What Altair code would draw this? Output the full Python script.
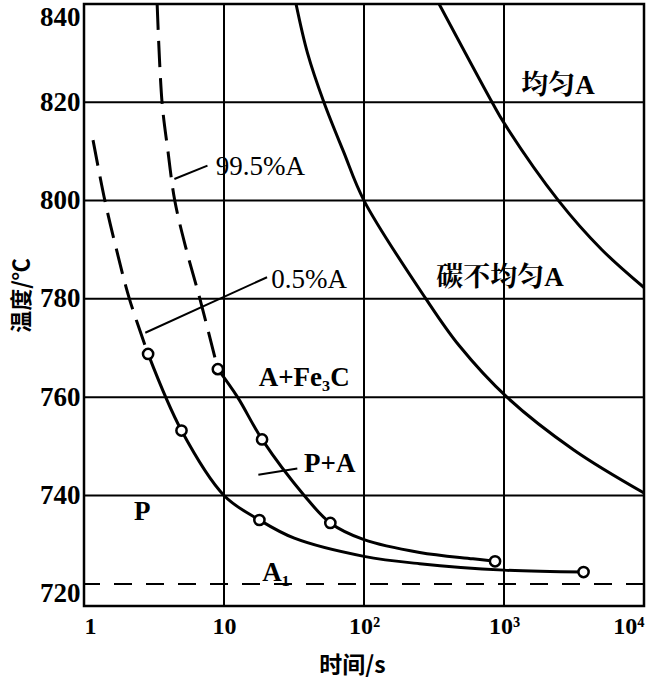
import altair as alt
import pandas as pd

# ---- data (time in s, temperature in °C) ----
a_dash_t = [1.16, 1.41, 1.70, 2.11, 2.87]
a_dash_T = [812.3, 800.0, 790.2, 780.0, 768.8]
a_solid_t = [2.87, 4.97, 10.0, 17.9, 31.8, 100, 250, 1000, 3700]
a_solid_T = [768.8, 753.2, 740.0, 735.0, 731.3, 727.6, 726.1, 724.8, 724.4]

b_dash_t = [3.33, 3.61, 3.98, 4.45, 5.36, 6.73, 9.04]
b_dash_T = [840.0, 820.0, 810.0, 800.0, 790.2, 780.0, 765.7]
b_solid_t = [9.04, 12.5, 18.7, 37.4, 57.5, 100, 250, 600, 863]
b_solid_T = [765.7, 760.0, 751.4, 740.0, 734.4, 731.0, 728.4, 727.1, 726.6]

c_t = [32.7, 39.5, 51.7, 71.3, 100, 277, 478, 1050, 3170, 10000]
c_T = [840.0, 830.0, 820.0, 810.0, 800.0, 780.0, 770.5, 760.0, 749.2, 740.5]

d_t = [344, 822, 1000, 2450, 5000, 10000]
d_T = [840.0, 820.0, 815.8, 800.0, 790.0, 782.3]

circ_t = [2.87, 4.97, 17.9, 3700, 9.04, 18.7, 57.5, 863]
circ_T = [768.8, 753.2, 735.0, 724.4, 765.7, 751.4, 734.4, 726.6]

a1_T = [722.0]
grid_t = [10, 100, 1000]
grid_T = [740, 760, 780, 800, 820]
x_ticks = [1, 10, 100, 1000, 10000]
y_ticks = [720, 740, 760, 780, 800, 820, 840]

bold_labels = ["均匀A", "碳不均匀A", "A+Fe₃C", "P+A", "P", "A₁"]
bold_t = [2430, 937, 37.4, 56.9, 2.61, 23.5]
bold_T = [823.3, 784.2, 763.9, 746.4, 736.6, 724.2]

reg_labels = ["99.5%A", "0.5%A"]
reg_t = [18.2, 40.6]
reg_T = [806.9, 783.8]

lead_t = [4.42, 2.74, 17.6]
lead_T = [804.4, 773.1, 744.2]
lead_t2 = [7.62, 20.3, 33.4]
lead_T2 = [807.1, 784.4, 745.5]

# ---- tables ----
def curve(name, ts, Ts):
    return pd.DataFrame({"t": ts, "T": Ts, "seg": name})

dashed = pd.concat([curve("A", a_dash_t, a_dash_T), curve("B", b_dash_t, b_dash_T)])
solid = pd.concat([curve("A", a_solid_t, a_solid_T), curve("B", b_solid_t, b_solid_T),
                   curve("C", c_t, c_T), curve("D", d_t, d_T)])
circles = pd.DataFrame({"t": circ_t, "T": circ_T})
gx = pd.DataFrame({"t": grid_t})
gy = pd.DataFrame({"T": grid_T})
a1 = pd.DataFrame({"T": a1_T})
bold_df = pd.DataFrame({"label": bold_labels, "t": bold_t, "T": bold_T})
reg_df = pd.DataFrame({"label": reg_labels, "t": reg_t, "T": reg_T})
lead_df = pd.DataFrame({"t": lead_t, "T": lead_T, "t2": lead_t2, "T2": lead_T2})

xs = alt.Scale(type="log", domain=[1, 10000], nice=False)
ys = alt.Scale(domain=[717.5, 840], nice=False, zero=False)

FONT = "Liberation Serif, Noto Serif CJK SC, Noto Sans CJK SC"

x_axis = alt.Axis(
    values=x_ticks,
    labelExpr="datum.value == 1 ? '1' : datum.value == 10 ? '10' : datum.value == 100 ? '10²' : datum.value == 1000 ? '10³' : '10⁴'",
    labelFont=FONT, labelFontSize=24, labelFontWeight="bold", labelColor="black",
    labelPadding=8, labelFlush=True, labelOverlap=False,
    ticks=False, domain=False, grid=False,
    title="时间/s", titleFont="Noto Sans CJK SC", titleFontSize=23, titleFontWeight="bold",
    titleColor="black", titleX=268, titleY=59, titleAlign="center", titleBaseline="middle",
)
y_axis = alt.Axis(
    values=y_ticks, format="d",
    labelFont=FONT, labelFontSize=27, labelFontWeight="bold", labelColor="black",
    labelPadding=4, labelOverlap=False, labelFlush=True,
    ticks=False, domain=False, grid=False,
    title="温度/℃", titleFont="Noto Sans CJK SC", titleFontSize=22, titleFontWeight="bold",
    titleColor="black", titleX=-63, titleY=291, titleAngle=270, titleAlign="center",
    titleBaseline="middle",
)

base_axes = alt.Chart(gx).mark_rule(color="black", strokeWidth=2).encode(
    x=alt.X("t:Q", scale=xs, axis=x_axis),
)
grid_h = alt.Chart(gy).mark_rule(color="black", strokeWidth=2).encode(
    y=alt.Y("T:Q", scale=ys, axis=y_axis),
)
a1_line = alt.Chart(a1).mark_rule(color="black", strokeWidth=2, strokeDash=[18, 14]).encode(
    y=alt.Y("T:Q", scale=ys),
)
dash_lines = alt.Chart(dashed).mark_line(color="black", strokeWidth=3, strokeDash=[26, 11],
                                         interpolate="catmull-rom", clip=True).encode(
    x=alt.X("t:Q", scale=xs), y=alt.Y("T:Q", scale=ys), detail="seg:N",
)
solid_lines = alt.Chart(solid).mark_line(color="black", strokeWidth=3,
                                         interpolate="catmull-rom", clip=True).encode(
    x=alt.X("t:Q", scale=xs), y=alt.Y("T:Q", scale=ys), detail="seg:N",
)
leaders = alt.Chart(lead_df).mark_rule(color="black", strokeWidth=2).encode(
    x=alt.X("t:Q", scale=xs), y=alt.Y("T:Q", scale=ys), x2="t2:Q", y2="T2:Q",
)
pts = alt.Chart(circles).mark_point(shape="circle", filled=True, fill="white", stroke="black",
                                     strokeWidth=2.5, size=105, opacity=1).encode(
    x=alt.X("t:Q", scale=xs), y=alt.Y("T:Q", scale=ys),
)
txt_bold = alt.Chart(bold_df).mark_text(font=FONT, fontSize=27, fontWeight="bold", color="black",
                                        align="center", baseline="middle").encode(
    x=alt.X("t:Q", scale=xs), y=alt.Y("T:Q", scale=ys), text="label:N",
)
txt_reg = alt.Chart(reg_df).mark_text(font=FONT, fontSize=27, color="black",
                                      align="center", baseline="middle").encode(
    x=alt.X("t:Q", scale=xs), y=alt.Y("T:Q", scale=ys), text="label:N",
)

chart = alt.layer(
    base_axes, grid_h, a1_line, dash_lines, solid_lines, leaders, pts, txt_bold, txt_reg
).properties(
    width=560, height=602,
    autosize=alt.AutoSizeParams(type="none"),
    padding={"left": 84, "top": 4, "right": 9, "bottom": 79},
    background="white",
).configure_view(
    stroke="black", strokeWidth=2.5,
)

chart.save("out.html", embed_options={"renderer": "svg", "actions": False})
